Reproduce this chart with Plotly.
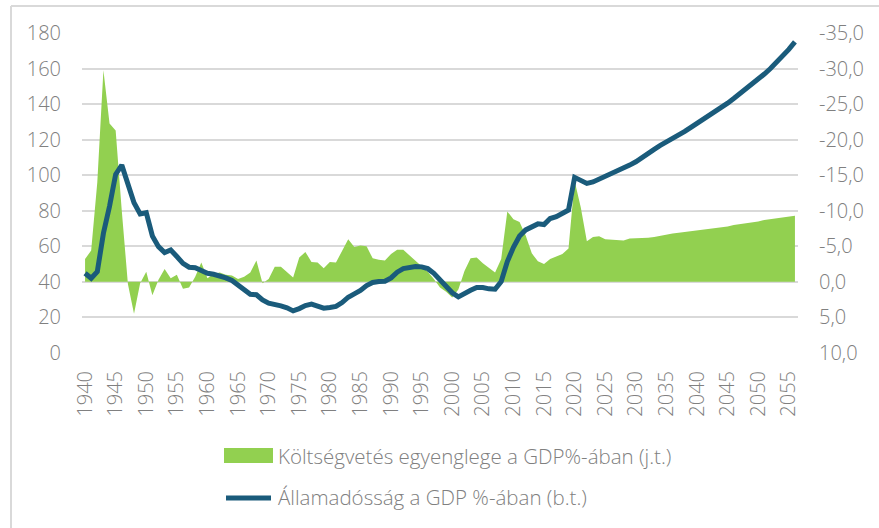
import plotly.graph_objects as go

years = list(range(1940, 2057))

# Költségvetés egyenlege a GDP%-ában (jobb tengely)
balance = [
    -3.2, -4.4, -14.0, -29.8, -22.3, -21.3, -10.0, 0.3, 4.5, 0.2,      # 1940-1949
    -1.4, 1.9, -0.3, -1.8, -0.5, -1.0, 1.0, 0.8, -0.7, -2.7,          # 1950-1959
    -0.5, -1.1, -1.3, -1.0, -0.9, -0.4, -0.7, -1.3, -3.0, 0.2,        # 1960-1969
    -0.4, -2.1, -2.1, -1.4, -0.6, -3.4, -4.2, -2.8, -2.7, -1.9,       # 1970-1979
    -2.8, -2.7, -4.4, -6.0, -4.9, -5.1, -5.0, -3.3, -3.1, -3.0,       # 1980-1989
    -3.9, -4.5, -4.5, -3.7, -2.9, -2.2, -1.4, -0.4, 0.8, 1.4,         # 1990-1999
    2.2, 1.1, -1.5, -3.3, -3.4, -2.6, -1.9, -1.3, -3.2, -9.9,         # 2000-2009
    -8.8, -8.4, -6.5, -4.0, -2.9, -2.5, -3.2, -3.5, -3.9, -4.7,       # 2010-2019
    -14.2, -10.5, -5.7, -6.3, -6.4, -6.0, -5.9, -5.8, -5.8, -6.1,     # 2020-2029
    -6.1, -6.1, -6.2, -6.3, -6.5, -6.7, -6.8, -6.9, -7.0, -7.1,       # 2030-2039
    -7.2, -7.3, -7.4, -7.5, -7.7, -7.8, -8.0, -8.1, -8.2, -8.4,       # 2040-2049
    -8.5, -8.7, -8.8, -9.0, -9.1, -9.2, -9.3,                         # 2050-2056
]

# Államadósság a GDP %-ában (bal tengely)
debt = [
    44.8, 42.0, 45.7, 67.3, 82.5, 100.5, 105.7, 95.5, 84.5, 78.2,     # 1940-1949
    78.9, 65.8, 59.8, 56.4, 57.9, 54.2, 50.4, 48.2, 47.9, 46.3,       # 1950-1959
    44.8, 44.2, 43.3, 42.2, 40.7, 38.2, 35.4, 33.0, 32.7, 29.8,       # 1960-1969
    27.9, 27.4, 26.4, 25.3, 23.6, 24.9, 26.6, 27.4, 26.4, 25.1,       # 1970-1979
    25.5, 26.1, 28.3, 31.3, 33.2, 35.1, 37.9, 39.6, 40.2, 40.3,       # 1980-1989
    42.2, 45.4, 47.4, 48.2, 48.6, 48.4, 47.4, 44.8, 41.4, 37.3,       # 1990-1999
    33.8, 31.5, 33.0, 35.2, 36.8, 36.8, 36.0, 35.8, 40.1, 51.4,       # 2000-2009
    59.4, 65.8, 69.2, 71.1, 72.6, 72.2, 75.6, 76.7, 78.2, 80.4,       # 2010-2019
    98.8, 97.3, 95.4, 96.2, 97.7, 99.2, 101.1, 102.6, 103.9, 105.7,   # 2020-2029
    107.6, 110.2, 112.5, 114.6, 116.8, 118.6, 120.4, 122.5, 124.7, 127.0,  # 2030-2039
    129.2, 131.3, 133.5, 135.7, 138.0, 140.6, 143.2, 145.8, 148.5, 151.3,  # 2040-2049
    154.1, 157.0, 160.1, 163.4, 166.7, 170.9, 175.1,                   # 2050-2056
]

x_ticks = list(range(1940, 2056, 5))
left_ticks = list(range(0, 181, 20))
right_ticks = [-35, -30, -25, -20, -15, -10, -5, 0, 5, 10]
right_labels = ["-35,0", "-30,0", "-25,0", "-20,0", "-15,0", "-10,0", "-5,0", "0,0", "5,0", "10,0"]

legend_labels = ["Költségvetés egyenglege a GDP%-ában (j.t.)", "Államadósság a GDP %-ában (b.t.)"]

GREEN = "#92D050"
BLUE = "#1A5B7B"
GRAY = "#808080"
GRID = "#D9D9D9"
FONT = dict(family="Open Sans", size=20, color=GRAY, weight=300)
LEG_FONT = dict(family="Open Sans", size=20.5, color=GRAY, weight=300)

fig = go.Figure()

fig.add_trace(go.Scatter(
    x=years, y=balance, yaxis="y", mode="lines",
    line=dict(width=0, color=GREEN), fill="tozeroy", fillcolor=GREEN,
    name=legend_labels[0],
))
fig.add_trace(go.Scatter(
    x=years, y=debt, yaxis="y2", mode="lines",
    line=dict(width=5, color=BLUE), name=legend_labels[1],
))

W, H = 879, 528
L, R, T, B = 82, 81, 33, 175
pw, ph = W - L - R, H - T - B

def px(xp):
    return (xp - L) / pw

def py(yp):
    return (H - B - yp) / ph

shapes = [
    # outer frame (partial, as in the reference crop)
    dict(type="line", xref="paper", yref="paper", x0=px(11), x1=px(11), y0=py(6), y1=py(540),
         line=dict(color=GRID, width=2)),
    dict(type="line", xref="paper", yref="paper", x0=px(11), x1=px(890), y0=py(6), y1=py(6),
         line=dict(color=GRID, width=2)),
    # legend symbols
    dict(type="rect", xref="paper", yref="paper", x0=px(224), x1=px(273), y0=py(463), y1=py(448),
         fillcolor=GREEN, line=dict(width=0)),
    dict(type="line", xref="paper", yref="paper", x0=px(226), x1=px(271), y0=py(498), y1=py(498),
         line=dict(color=BLUE, width=5)),
]

annotations = [
    dict(xref="paper", yref="paper", x=px(276), y=py(456), text=legend_labels[0],
         showarrow=False, xanchor="left", yanchor="middle", font=LEG_FONT),
    dict(xref="paper", yref="paper", x=px(276), y=py(497), text=legend_labels[1],
         showarrow=False, xanchor="left", yanchor="middle", font=LEG_FONT),
]

fig.update_layout(
    template="none",
    width=W, height=H,
    margin=dict(l=L, r=R, t=T, b=B, pad=0, autoexpand=False),
    paper_bgcolor="white", plot_bgcolor="white",
    font=FONT,
    showlegend=False,
    shapes=shapes,
    annotations=annotations,
    xaxis=dict(
        range=[1939.5, 2056.5], tickmode="array", tickvals=x_ticks,
        ticktext=[str(v) for v in x_ticks], tickangle=-90,
        showgrid=False, zeroline=False, showline=False, ticks="",
        ticklabelstandoff=13, automargin=False,
    ),
    yaxis=dict(
        range=[10.03, -35.03], side="right", tickmode="array", tickvals=right_ticks,
        ticktext=right_labels, showgrid=False,
        zeroline=False, showline=False, ticks="", ticklabelstandoff=20,
        automargin=False,
    ),
    yaxis2=dict(
        range=[-0.12, 180.12], side="left", overlaying="y", tickmode="array",
        tickvals=left_ticks, showgrid=True, gridcolor=GRID, gridwidth=2,
        zeroline=False, showline=False, ticks="", ticklabelstandoff=20,
        automargin=False,
    ),
)

fig.write_html("out.html", config={"displayModeBar": False},
               post_script="document.body.style.margin='0';")
